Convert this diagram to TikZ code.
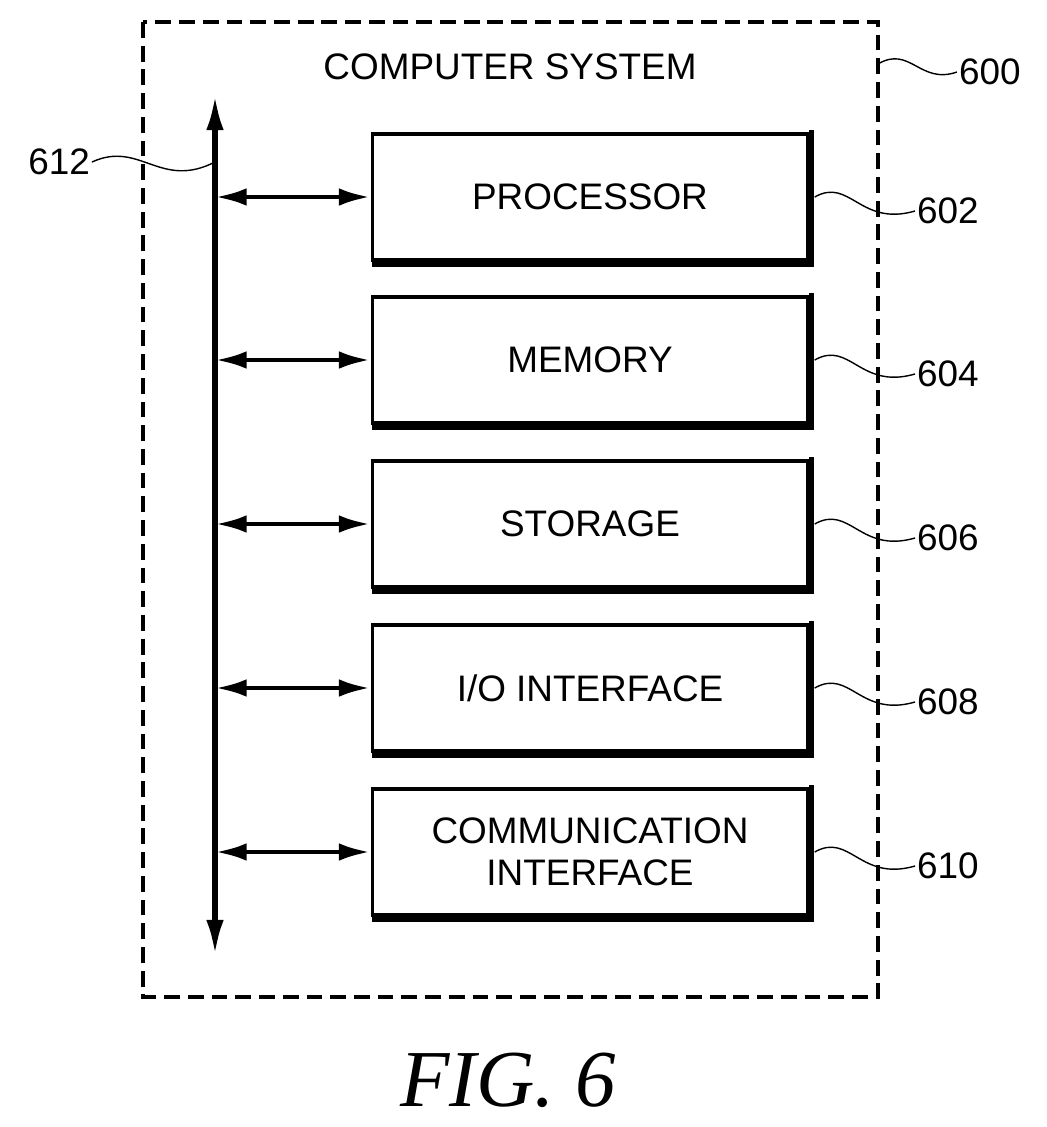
\documentclass[tikz,border=0pt]{standalone}
\usepackage{fontspec}
\setmainfont{Liberation Sans}
\newfontfamily\figfont{Liberation Serif}
\usetikzlibrary{arrows.meta}
\begin{document}
\begin{tikzpicture}[x=0.02cm,y=-0.02cm,
  blk/.style={draw,line width=2.2pt,minimum width=435*0.02cm,minimum height=126*0.02cm,align=center,font=\fontsize{21}{24}\selectfont,inner sep=0pt},
  shd/.style={line width=3pt},
  conn/.style={line width=2.8pt,{Latex[length=18pt,width=10pt]}-{Latex[length=18pt,width=10pt]}},
  lead/.style={line width=0.8pt},
  num/.style={font=\fontsize{21}{24}\selectfont,inner sep=1pt}]
\useasboundingbox (0,0) rectangle (1047,1127);
\draw[line width=2.4pt,dash pattern=on 9pt off 4.5pt] (143,22) rectangle (878,997);
\node[font=\fontsize{21}{24}\selectfont] (title) at (510,67) {COMPUTER SYSTEM};
\coordinate (bt) at (215,95); \coordinate (bb) at (215,955);
\draw[line width=3pt,{Latex[length=20pt,width=10pt]}-{Latex[length=20pt,width=10pt]}] (bt) -- (bb);
\foreach \n/\y/\t/\lab in {p/197/{PROCESSOR}/602,m/360/{MEMORY}/604,s/524/{STORAGE}/606,i/688/{I/O INTERFACE}/608,c/852/{COMMUNICATION\\INTERFACE}/610}{
  \node[blk] (\n) at (590,\y) {\t};
  \draw[shd] ([xshift=1.2pt,yshift=1pt]\n.north east) -- ([xshift=1.2pt,yshift=-1.2pt]\n.south east) -- ([xshift=1pt,yshift=-1.2pt]\n.south west);
  \coordinate (b\n) at (215,\y);
  \draw[conn] (b\n) -- (\n.west);
  \node[num,anchor=west] (l\n) at (915,\y+14) {\lab};
  \draw[lead] ([xshift=3pt]\n.east) .. controls (850,\y-20) and (860,\y+30) .. (l\n.west);
}
\node[num,anchor=west] (l600) at (957,72) {600};
\draw[lead] (878,64) .. controls (910,45) and (920,85) .. (l600.west);
\node[num,anchor=east] (l612) at (92,162) {612};
\draw[lead] (l612.east) .. controls (140,140) and (160,190) .. (bt |- 0,162);
\node[font=\figfont\itshape\fontsize{46}{50}\selectfont] (fig) at (508,1080) {FIG. 6};
\end{tikzpicture}
\end{document}
